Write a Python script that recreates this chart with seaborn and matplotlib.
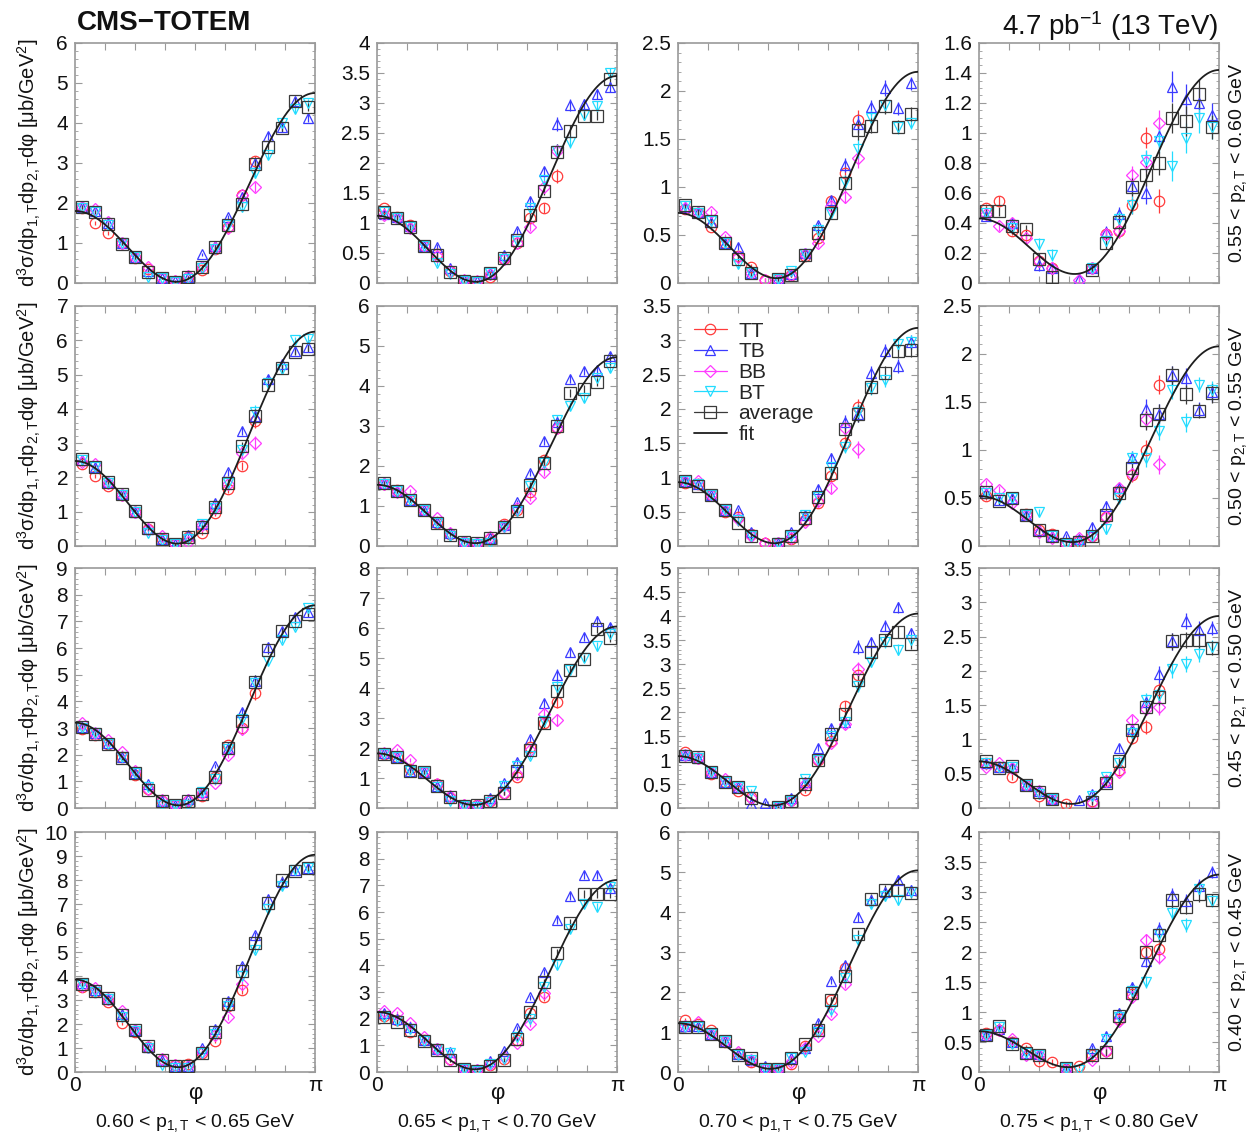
import numpy as np
import matplotlib
matplotlib.use("Agg")
import matplotlib.pyplot as plt
import seaborn as sns
from matplotlib.lines import Line2D
from matplotlib.ticker import MultipleLocator, AutoMinorLocator, FuncFormatter

nan = np.nan

# ---------------- data ----------------
N_BINS = 18
phi_edges = np.linspace(0, np.pi, N_BINS + 1)
phi_centers = 0.5 * (phi_edges[:-1] + phi_edges[1:])

p1_labels = ["0.60 < p$_{1,\\mathrm{T}}$ < 0.65 GeV", "0.65 < p$_{1,\\mathrm{T}}$ < 0.70 GeV",
             "0.70 < p$_{1,\\mathrm{T}}$ < 0.75 GeV", "0.75 < p$_{1,\\mathrm{T}}$ < 0.80 GeV"]
p2_labels = ["0.55 < p$_{2,\\mathrm{T}}$ < 0.60 GeV", "0.50 < p$_{2,\\mathrm{T}}$ < 0.55 GeV",
             "0.45 < p$_{2,\\mathrm{T}}$ < 0.50 GeV", "0.40 < p$_{2,\\mathrm{T}}$ < 0.45 GeV"]

y_max = [6, 4, 2.5, 1.6, 7, 6, 3.5, 2.5, 9, 8, 5, 3.5, 10, 9, 6, 4]
y_step = [1, 0.5, 0.5, 0.2, 1, 1, 0.5, 0.5, 1, 1, 0.5, 0.5, 1, 1, 1, 0.5]

avg_vals = [
    [1.90,1.78,1.47,0.98,0.65,0.28,0.13,0.03,0.15,0.40,0.90,1.44,1.98,2.98,3.40,3.88,4.54,4.40],
    [1.18,1.09,0.93,0.62,0.46,0.18,0.03,0.02,0.16,0.41,0.72,1.13,1.54,2.19,2.53,2.79,2.79,3.40],
    [0.81,0.74,0.65,0.42,0.25,0.10,nan,0.045,0.08,0.29,0.52,0.73,1.04,1.59,1.64,1.84,1.63,1.76],
    [0.48,0.48,0.38,0.36,0.16,0.04,nan,nan,0.09,0.27,0.41,0.64,0.72,0.80,1.10,1.08,1.26,1.04],
    [2.53,2.31,1.86,1.52,1.02,0.52,0.19,0.05,0.25,0.56,1.13,1.85,2.92,3.79,4.71,5.18,5.66,5.75],
    [1.57,1.38,1.15,0.90,0.57,0.28,0.09,0.07,0.19,0.48,0.88,1.53,2.08,3.00,3.82,3.92,4.11,4.63],
    [0.95,0.88,0.74,0.53,0.33,0.14,nan,0.03,0.15,0.41,0.72,1.07,1.70,1.93,2.32,2.53,2.84,2.86],
    [0.56,0.47,0.50,0.32,0.17,0.10,0.02,0.04,0.10,0.32,0.55,0.81,1.31,1.38,1.78,1.58,1.41,1.59],
    [3.03,2.78,2.41,1.88,1.31,0.69,0.25,0.13,0.28,0.53,1.15,2.25,3.25,4.73,5.91,6.63,7.03,7.28],
    [1.80,1.69,1.24,1.20,0.72,0.36,0.08,0.09,0.24,0.50,1.24,1.92,2.83,3.91,4.61,4.98,5.98,5.67],
    [1.08,1.06,0.75,0.54,0.43,0.21,nan,0.02,0.14,0.51,1.01,1.54,1.96,2.66,3.24,3.51,3.67,3.42],
    [0.68,0.59,0.61,0.34,0.23,0.13,nan,nan,0.09,0.37,0.68,1.14,1.48,1.62,2.43,2.45,2.45,2.33],
    [3.68,3.38,3.10,2.39,1.76,1.07,0.51,0.24,0.24,0.81,1.67,2.85,4.19,5.38,7.04,8.01,8.38,8.51],
    [2.06,1.89,1.59,1.15,0.82,0.45,0.10,0.04,0.23,0.45,1.24,2.25,3.38,4.48,5.59,6.69,6.69,6.69],
    [1.13,1.13,0.96,0.77,0.43,0.35,0.08,0.08,0.35,0.69,1.04,1.79,2.40,3.44,4.33,4.56,4.54,4.48],
    [0.62,0.77,0.46,0.32,0.29,nan,0.07,nan,0.29,0.33,0.94,1.32,2.00,2.28,2.86,2.75,2.96,2.87],
]

tt_vals = [
    [1.88,1.50,1.25,1.00,0.62,0.35,0.12,0.05,0.15,0.33,0.85,1.40,2.20,3.05,nan,nan,nan,nan],
    [1.25,1.10,0.97,0.62,0.48,0.20,0.03,0.02,0.10,0.40,0.66,1.08,1.25,1.78,nan,nan,nan,nan],
    [0.77,0.73,0.58,0.42,0.28,0.17,0.03,0.04,0.08,0.28,0.47,0.85,1.15,1.70,nan,nan,nan,nan],
    [0.50,0.55,0.35,0.32,0.15,0.10,nan,nan,0.10,0.33,0.35,0.52,0.97,0.55,nan,nan,nan,nan],
    [2.40,2.05,1.75,1.50,1.00,0.50,0.20,0.05,0.25,0.38,0.95,1.65,2.33,3.65,nan,nan,nan,nan],
    [1.55,1.40,1.15,0.90,0.57,0.30,0.10,0.05,0.18,0.55,0.90,1.35,2.15,2.95,nan,nan,nan,nan],
    [0.92,0.90,0.74,0.50,0.42,0.17,0.05,0.05,0.10,0.38,0.62,1.02,1.50,2.02,nan,nan,nan,nan],
    [0.52,nan,nan,0.33,0.17,0.13,0.02,0.05,0.10,0.30,0.57,0.74,1.00,1.68,nan,nan,nan,nan],
    [2.95,2.75,2.40,1.90,1.25,0.70,0.25,0.10,0.28,0.45,1.15,2.35,3.00,4.30,nan,nan,nan,nan],
    [1.80,1.70,1.30,1.20,0.80,0.35,0.10,0.10,0.22,0.50,1.05,2.05,2.85,3.55,nan,nan,nan,nan],
    [1.17,1.05,0.70,0.55,0.35,0.22,nan,0.03,0.16,0.37,1.00,1.40,2.12,2.78,nan,nan,nan,nan],
    [0.65,0.60,0.45,0.34,0.17,0.13,0.06,nan,0.10,0.40,0.55,1.02,1.18,1.72,nan,nan,nan,nan],
    [3.55,3.35,2.90,2.05,1.65,1.05,0.50,0.30,0.35,0.80,1.30,2.75,3.40,nan,nan,nan,nan,nan],
    [2.10,1.95,1.50,1.20,0.85,0.50,0.12,0.05,0.25,0.50,1.20,2.20,2.80,nan,nan,nan,nan,nan],
    [1.30,1.20,1.05,0.75,0.45,0.25,0.10,0.08,0.20,0.65,1.05,1.80,2.60,nan,nan,nan,nan,nan],
    [0.65,0.70,0.50,0.40,0.18,0.17,0.05,0.10,0.28,0.35,0.88,1.30,2.00,2.05,nan,nan,nan,nan],
]

tb_vals = [
    [1.90,1.80,1.50,1.00,0.66,0.30,0.12,0.05,0.15,0.72,0.92,1.65,2.15,3.00,3.68,3.90,4.55,4.13],
    [1.15,1.10,0.95,0.62,0.60,0.25,0.05,0.03,0.17,0.47,0.87,1.37,1.86,2.65,2.97,2.98,3.15,3.27],
    [0.79,0.74,0.64,0.42,0.38,0.10,nan,0.05,0.09,0.31,0.60,0.86,1.23,1.66,1.83,2.03,1.82,2.08],
    [0.45,nan,0.40,nan,0.12,0.10,nan,0.03,0.10,0.34,0.46,0.65,0.60,0.98,1.31,1.23,1.20,1.12],
    [2.50,2.30,1.87,1.52,1.00,0.50,0.20,0.05,0.33,0.63,1.25,2.15,3.35,3.80,4.87,5.30,5.70,5.80],
    [1.57,1.38,1.15,0.90,0.60,0.33,0.10,0.07,0.20,0.52,1.10,1.83,2.63,3.10,4.18,4.37,4.40,4.75],
    [0.95,0.90,0.74,0.52,0.52,0.20,nan,0.05,0.20,0.45,0.83,1.28,1.81,1.93,2.52,2.84,2.62,2.97],
    [0.55,0.48,0.50,0.32,0.17,0.10,0.10,0.07,0.20,0.42,0.60,0.92,1.43,1.38,1.78,1.75,1.42,1.60],
    [3.05,2.80,2.45,1.90,1.30,0.90,0.25,0.13,0.33,0.60,1.58,2.25,3.60,4.75,6.05,6.65,7.15,7.35],
    [1.85,1.70,1.25,1.20,0.75,0.40,0.10,0.15,0.35,0.85,1.55,2.30,3.50,4.45,5.20,5.70,6.25,6.05],
    [1.10,1.05,0.75,0.55,0.43,0.08,0.11,0.03,0.20,0.55,1.26,1.66,1.80,3.35,3.45,3.80,4.18,3.65],
    [0.65,0.60,0.60,0.34,0.25,0.13,nan,0.11,0.20,0.38,0.88,1.15,1.55,1.95,2.43,2.73,2.60,2.62],
    [3.70,3.40,3.05,2.40,1.75,1.05,0.50,0.25,0.25,0.98,1.78,2.95,4.40,5.70,7.20,7.90,8.40,8.50],
    [2.20,2.00,1.70,1.20,0.85,0.75,0.12,0.12,0.40,0.80,1.65,2.80,3.75,5.70,6.60,7.40,7.40,6.90],
    [1.15,1.15,0.96,0.77,0.45,0.30,0.15,0.10,0.35,0.60,1.23,2.27,2.68,3.88,4.30,4.50,4.80,4.55],
    [0.62,0.72,0.50,0.32,0.30,nan,0.06,nan,0.40,0.60,0.98,1.42,1.85,2.38,2.95,2.85,3.10,3.33],
]

bb_vals = [
    [1.90,1.85,1.52,1.00,0.65,0.40,0.12,0.05,0.18,0.40,0.88,1.38,2.20,2.40,nan,nan,nan,nan],
    [1.13,1.08,0.92,0.62,0.45,0.20,0.05,0.03,0.15,0.40,0.67,0.93,1.60,2.20,nan,nan,nan,nan],
    [0.78,0.73,0.74,0.48,0.27,0.10,0.03,0.03,0.08,0.30,0.42,0.80,0.90,1.30,nan,nan,nan,nan],
    [0.46,0.38,0.40,0.30,0.15,0.10,nan,0.02,0.10,0.33,0.35,0.72,0.81,1.07,nan,nan,nan,nan],
    [2.45,2.40,1.85,1.50,1.00,0.50,0.28,0.05,0.12,0.60,1.10,1.80,2.70,3.00,nan,nan,nan,nan],
    [1.55,1.35,1.37,0.90,0.70,0.33,0.10,0.08,0.22,0.50,0.95,1.20,1.85,2.95,nan,nan,nan,nan],
    [0.95,0.95,0.74,0.52,0.40,0.15,0.05,0.04,0.12,0.35,0.65,0.84,1.72,1.41,nan,nan,nan,nan],
    [0.65,0.58,0.45,0.32,0.15,0.08,0.02,0.08,0.10,0.30,0.60,0.75,1.32,0.85,nan,nan,nan,nan],
    [3.20,2.80,2.55,2.10,1.40,0.70,0.30,0.12,0.30,0.55,0.95,2.00,2.95,nan,nan,nan,nan,nan],
    [1.85,1.95,1.60,1.20,0.80,0.40,0.10,0.10,0.25,0.50,1.15,1.95,3.15,2.95,nan,nan,nan,nan],
    [1.10,1.05,0.75,0.60,0.43,0.20,nan,0.03,0.15,0.50,1.00,1.35,1.75,2.90,nan,nan,nan,nan],
    [0.60,0.65,0.58,0.34,0.25,0.13,nan,nan,0.08,0.40,0.53,1.28,1.45,1.48,nan,nan,nan,nan],
    [3.60,3.50,3.05,2.55,1.75,1.05,0.55,0.30,0.25,0.85,1.55,2.30,3.65,nan,nan,nan,nan,nan],
    [2.30,2.20,1.85,1.30,0.85,0.45,0.12,0.08,0.30,0.55,1.10,1.80,2.95,nan,nan,nan,nan,nan],
    [1.15,1.25,0.96,0.77,0.50,0.30,0.08,0.08,0.25,0.60,0.90,1.45,2.20,nan,nan,nan,nan,nan],
    [0.62,0.70,0.55,0.28,0.28,nan,0.04,nan,0.20,0.35,0.85,1.25,2.20,1.92,nan,nan,nan,nan],
]

bt_vals = [
    [1.88,1.78,1.45,1.00,0.65,0.15,0.12,0.03,0.10,0.38,0.85,1.45,1.90,2.75,3.20,4.00,4.35,4.50],
    [1.18,1.08,0.93,0.62,0.33,0.15,0.03,0.02,0.17,0.40,0.70,1.25,1.72,2.20,2.35,2.80,2.95,3.50],
    [0.80,0.73,0.65,0.42,0.20,0.10,nan,0.04,0.12,0.30,0.55,0.73,1.05,1.40,1.72,1.85,1.62,1.67],
    [0.47,nan,0.37,nan,0.26,0.19,nan,nan,0.10,0.28,0.43,0.52,0.82,0.95,0.78,0.97,1.10,1.04],
    [2.50,2.30,1.85,1.50,1.00,0.38,0.18,0.05,0.20,0.65,1.10,1.85,2.80,3.90,4.75,5.15,6.00,6.05],
    [1.55,1.38,1.15,0.90,0.57,0.25,0.08,0.06,0.08,0.47,0.88,1.50,2.07,3.15,3.50,3.70,4.20,4.45],
    [0.95,0.90,0.74,0.52,0.38,0.15,nan,0.04,0.15,0.45,0.72,1.15,1.45,1.95,2.30,2.42,2.95,2.97],
    [0.55,0.50,0.50,0.32,0.35,0.10,0.02,0.02,0.10,0.18,0.50,0.92,0.92,1.20,1.63,1.29,1.68,1.62],
    [3.00,2.80,2.40,1.90,1.30,0.80,0.12,0.10,0.10,0.60,1.10,2.20,3.35,4.70,5.50,6.30,6.80,7.50],
    [1.80,1.70,1.25,1.20,0.70,0.22,0.08,0.05,0.20,0.75,1.40,1.75,2.90,4.05,4.60,5.00,5.40,5.80],
    [1.10,1.05,0.75,0.55,0.43,0.35,nan,0.03,0.15,0.60,1.00,1.50,1.80,2.55,3.05,3.45,3.30,3.50],
    [0.65,0.60,0.60,0.34,0.20,0.13,nan,nan,0.17,0.45,0.65,1.10,1.58,1.65,2.02,2.10,2.25,2.35],
    [3.65,3.35,3.05,2.30,1.70,1.00,0.30,0.15,0.15,0.80,1.60,2.75,4.00,5.10,6.80,7.75,8.40,8.50],
    [2.05,1.90,1.60,1.15,0.85,0.72,0.10,0.05,0.30,0.50,1.30,2.00,3.20,4.00,5.35,6.30,6.20,6.95],
    [1.13,1.13,0.96,0.77,0.43,0.30,0.08,0.08,0.35,0.50,1.00,1.55,2.35,3.30,4.20,4.40,4.30,4.50],
    [0.62,0.75,0.46,0.32,0.28,nan,0.07,0.03,0.30,0.55,0.92,1.35,1.50,2.30,2.65,2.45,3.05,2.85],
]

err_vals = [
    [0.05,0.05,0.05,0.04,0.04,0.04,0.03,0.03,0.03,0.04,0.05,0.06,0.08,0.12,0.10,0.10,0.10,0.10],
    [0.04,0.04,0.04,0.03,0.05,0.04,0.02,0.02,0.03,0.04,0.05,0.07,0.08,0.12,0.10,0.08,0.08,0.08],
    [0.03,0.03,0.03,0.03,0.04,0.03,0.02,0.02,0.02,0.03,0.04,0.05,0.07,0.10,0.08,0.08,0.07,0.07],
    [0.03,0.03,0.03,0.03,0.04,0.04,0.04,0.04,0.03,0.04,0.05,0.06,0.07,0.08,0.10,0.10,0.10,0.08],
    [0.06,0.06,0.06,0.05,0.05,0.05,0.04,0.04,0.05,0.06,0.08,0.10,0.12,0.20,0.12,0.12,0.10,0.10],
    [0.05,0.05,0.05,0.04,0.04,0.04,0.03,0.03,0.04,0.05,0.06,0.08,0.10,0.12,0.10,0.10,0.10,0.10],
    [0.04,0.04,0.04,0.03,0.04,0.04,0.03,0.02,0.03,0.04,0.06,0.07,0.10,0.12,0.10,0.10,0.10,0.10],
    [0.04,0.04,0.04,0.04,0.04,0.04,0.03,0.03,0.04,0.05,0.06,0.07,0.10,0.10,0.10,0.10,0.08,0.10],
    [0.07,0.07,0.07,0.07,0.06,0.06,0.05,0.05,0.05,0.06,0.08,0.12,0.15,0.25,0.15,0.12,0.12,0.12],
    [0.06,0.06,0.06,0.06,0.06,0.05,0.04,0.04,0.05,0.06,0.08,0.10,0.15,0.20,0.15,0.12,0.15,0.12],
    [0.04,0.04,0.04,0.04,0.04,0.04,0.04,0.03,0.04,0.05,0.07,0.08,0.10,0.14,0.12,0.12,0.12,0.10],
    [0.04,0.04,0.04,0.04,0.04,0.04,0.04,0.04,0.04,0.05,0.06,0.08,0.10,0.12,0.12,0.12,0.12,0.10],
    [0.10,0.10,0.10,0.10,0.08,0.07,0.06,0.06,0.06,0.07,0.10,0.12,0.15,0.15,0.15,0.15,0.15,0.15],
    [0.08,0.08,0.08,0.07,0.06,0.06,0.05,0.05,0.05,0.06,0.08,0.10,0.12,0.15,0.15,0.15,0.15,0.15],
    [0.06,0.06,0.06,0.05,0.05,0.05,0.04,0.04,0.04,0.05,0.06,0.08,0.10,0.12,0.12,0.12,0.12,0.12],
    [0.05,0.05,0.05,0.05,0.05,0.05,0.04,0.04,0.05,0.06,0.08,0.08,0.10,0.12,0.12,0.12,0.12,0.10],
]

# fit parameters per panel: value at phi=0, value at phi=pi, minimum value
fit_at_0 = [1.80, 1.12, 0.73, 0.43, 2.48, 1.53, 0.93, 0.52, 3.20, 1.82, 1.08, 0.68, 3.85, 2.25, 1.22, 0.68]
fit_at_pi = [4.75, 3.45, 2.20, 1.42, 6.25, 4.72, 3.18, 2.08, 7.60, 6.05, 4.05, 2.80, 9.05, 7.20, 5.04, 3.29]
fit_min = [0.03, 0.02, 0.05, 0.06, 0.07, 0.07, 0.04, 0.04, 0.10, 0.10, 0.05, 0.06, 0.20, 0.10, 0.08, 0.08]

series_names = ["TT", "TB", "BB", "BT", "average"]
series_data = [tt_vals, tb_vals, bb_vals, bt_vals, avg_vals]
series_colors = ["#ff3b3b", "#3b3bff", "#ff3bff", "#22dcff", "#3a3a3a"]
series_markers = ["o", "^", "D", "v", "s"]
series_msize = [7.5, 7.5, 6.0, 7.5, 8.0]

# ---------------- style ----------------
sns.set_theme(style="ticks")
plt.rcParams["font.family"] = ["Liberation Sans", "DejaVu Sans"]
plt.rcParams["mathtext.fontset"] = "custom"
plt.rcParams["mathtext.rm"] = "Liberation Sans"
plt.rcParams["mathtext.it"] = "Liberation Sans:italic"
plt.rcParams["mathtext.bf"] = "Liberation Sans:bold"

W, H = 1253, 1139
fig = plt.figure(figsize=(W / 100, H / 100), dpi=100)
fig.patch.set_facecolor("white")

col_left = [75, 377, 678, 979]
row_bottom = [283, 546, 808, 1072]
PW, PH = 240, 240
frame_col = "#9a9a9a"

phi_grid = np.linspace(0, np.pi, 400)
fmt_g = FuncFormatter(lambda v, pos: f"{v:g}")

for k in range(16):
    r, c = divmod(k, 4)
    ax = fig.add_axes([col_left[c] / W, 1 - row_bottom[r] / H, PW / W, PH / H])
    ax.set_facecolor("white")

    x = phi_centers
    for name, data, col, mk, ms in zip(series_names, series_data, series_colors,
                                       series_markers, series_msize):
        y = np.array(data[k], dtype=float)
        ax.errorbar(x, y, yerr=np.array(err_vals[k]), fmt=mk, mfc="none", mec=col,
                    ecolor=col, ms=ms, mew=0.9, elinewidth=0.9, capsize=0, zorder=3)

    # fit curve: (a - b cos phi)^2 + c
    cmin = fit_min[k]
    s0 = np.sqrt(fit_at_0[k] - cmin)
    sp = np.sqrt(fit_at_pi[k] - cmin)
    a = 0.5 * (sp - s0)
    b = 0.5 * (sp + s0)
    fit_y = (a - b * np.cos(phi_grid)) ** 2 + cmin
    sns.lineplot(x=phi_grid, y=fit_y, ax=ax, color="#1e1e1e", lw=1.3, zorder=5)

    ax.set_xlim(0, np.pi)
    ax.set_ylim(0, y_max[k])
    ax.yaxis.set_major_locator(MultipleLocator(y_step[k]))
    ax.yaxis.set_minor_locator(AutoMinorLocator(4 if y_step[k] == 0.2 else 5))
    ax.yaxis.set_major_formatter(fmt_g)
    ax.set_xticks(np.arange(9) * np.pi / 8)
    if r == 3:
        ax.set_xticklabels(["0", "", "", "", "", "", "", "", "\u03c0"])
    else:
        ax.set_xticklabels([""] * 9)
    ax.set_xlabel("")
    ax.set_ylabel("")

    ax.tick_params(which="both", direction="in", top=True, right=True,
                   color=frame_col, labelsize=15, labelcolor="#111111")
    ax.tick_params(which="major", length=5, width=0.8, pad=5)
    ax.tick_params(which="minor", length=2.5, width=0.6)
    ax.tick_params(axis="x", which="major", pad=3)
    for sp_ in ax.spines.values():
        sp_.set_color(frame_col)
        sp_.set_linewidth(1.2)
    ax.grid(False)

    if k == 6:
        handles = [Line2D([0], [0], color=col, marker=mk, mfc="none", mec=col, ms=ms,
                          lw=0.9, mew=0.9)
                   for col, mk, ms in zip(series_colors, series_markers, series_msize)]
        handles.append(Line2D([0], [0], color="#1e1e1e", lw=1.3))
        ax.legend(handles, series_names + ["fit"], loc="upper left",
                  bbox_to_anchor=(0.0, 1.0), frameon=False, fontsize=15,
                  handlelength=1.6, handletextpad=0.55, labelspacing=0.08,
                  borderaxespad=0.35)

# ---------------- texts ----------------
ylab = "d$^{3}$\u03c3/dp$_{1,\\mathrm{T}}$dp$_{2,\\mathrm{T}}$d\u03c6 [\u03bcb/GeV$^{2}$]"
for r in range(4):
    yc = row_bottom[r] - PH / 2
    fig.text(29 / W, 1 - yc / H, ylab, rotation=90, ha="center", va="center",
             fontsize=14.5, color="#111111")
    fig.text(1238 / W, 1 - yc / H, p2_labels[r], rotation=90, ha="center",
             va="center", fontsize=14, color="#111111")

for c in range(4):
    xc = col_left[c] + PW / 2
    fig.text(xc / W, 1 - 1094 / H, "\u03c6", ha="center", va="center", fontsize=16,
             color="#111111")
    fig.text(xc / W, 1 - 1123 / H, p1_labels[c], ha="center", va="center",
             fontsize=14, color="#111111")

fig.text(77 / W, 1 - 23 / H, "CMS\u2212TOTEM", ha="left", va="center", fontsize=20,
         fontweight="bold", color="#111111")
fig.text(1218 / W, 1 - 26 / H, "4.7 pb$^{-1}$ (13 TeV)", ha="right", va="center",
         fontsize=20, color="#111111")

fig.savefig("out.png", dpi=100, facecolor="white")
